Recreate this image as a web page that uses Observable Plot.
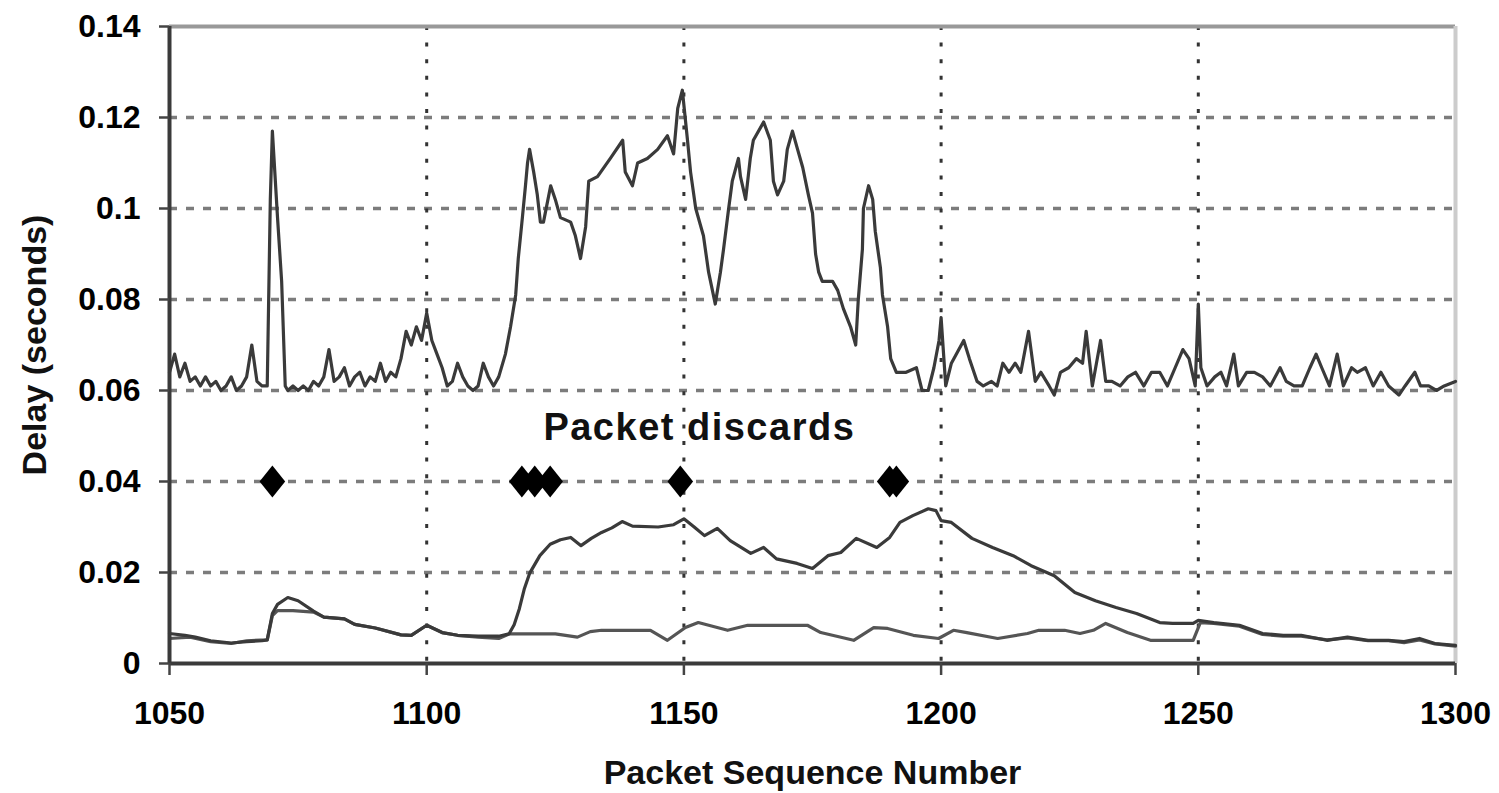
<!DOCTYPE html>
<html>
<head>
<meta charset="utf-8">
<script src="https://cdn.jsdelivr.net/npm/d3@7"></script>
<script src="https://cdn.jsdelivr.net/npm/@observablehq/plot@0.6"></script>
<style>
  html, body { margin: 0; padding: 0; background: #fff; }
  #chart svg { display: block; }
</style>
</head>
<body>
<div id="chart"></div>
<script>
// ---- data ----
const xTicks = [1050, 1100, 1150, 1200, 1250, 1300];
const yTicks = [0, 0.02, 0.04, 0.06, 0.08, 0.1, 0.12, 0.14];
const xGrid = [1100, 1150, 1200, 1250];
const yGrid = [0.02, 0.04, 0.06, 0.08, 0.1, 0.12];

// end-to-end delay (upper trace)
const delaySeq = [1050,1051,1052,1053,1054,1055,1056,1057,1058,1059,1060,1061,1062,1063,1064,1065,1066,1067,1068,1069,1069.6,1070,1071,1071.8,1072.5,1073,1074,1075,1076,1077,1078,1079,1080,1081,1082,1083,1084,1085,1086,1087,1088,1089,1090,1091,1092,1093,1094,1095,1096,1097,1098,1099,1100,1101,1102,1103,1104,1105,1106,1107,1108,1109,1110,1111,1112,1113,1114,1115.3,1116.3,1117.3,1117.8,1118.6,1119.2,1119.6,1120,1120.8,1121.5,1122.1,1122.7,1124.1,1125,1126,1128,1128.9,1129.9,1130.9,1131.5,1133.2,1135.7,1138.1,1138.6,1140,1141,1142.9,1144.9,1146.8,1148,1148.8,1149.7,1150.7,1151.3,1152.3,1153.8,1154.8,1156.1,1157.1,1157.7,1158.7,1159.4,1160.6,1161,1162,1162.9,1163.5,1165.5,1166.8,1167.4,1168.2,1169.4,1170.1,1171.1,1172.1,1173.1,1174.2,1175,1175.6,1176.2,1176.9,1178.9,1179.9,1181,1182.4,1183.4,1183.9,1184.7,1184.9,1185.9,1186.7,1187.2,1188.2,1188.6,1189.6,1190.2,1191.3,1193.2,1195.2,1196.3,1197.5,1198.6,1199.6,1200,1200.9,1202,1204.4,1205.5,1207,1208.2,1209.8,1210.9,1212,1213.2,1214.4,1215.5,1217,1218.3,1219.4,1221,1222,1223.2,1224.8,1226.3,1227.5,1228.2,1229.4,1231,1232,1233.2,1234.8,1236.3,1237.8,1239.4,1240.9,1242.5,1244,1245.5,1247,1248.2,1249.4,1250,1250.5,1251.7,1253.2,1254.4,1255.5,1256.9,1257.8,1259.4,1260.9,1262.5,1264,1265.9,1267.1,1268.6,1270.2,1271.7,1272.9,1274,1275.5,1277,1278.2,1279.8,1280.9,1282.5,1284,1285.5,1287,1289,1290.2,1292.1,1293.2,1294.8,1296.3,1297.8,1300];
const delayVal = [0.064,0.068,0.063,0.066,0.062,0.063,0.061,0.063,0.061,0.062,0.060,0.061,0.063,0.060,0.061,0.063,0.070,0.062,0.061,0.061,0.102,0.117,0.098,0.084,0.061,0.060,0.061,0.060,0.061,0.060,0.062,0.061,0.063,0.069,0.062,0.063,0.065,0.061,0.063,0.064,0.061,0.063,0.062,0.066,0.062,0.064,0.063,0.067,0.073,0.070,0.074,0.071,0.077,0.071,0.068,0.065,0.061,0.062,0.066,0.063,0.061,0.060,0.061,0.066,0.063,0.061,0.063,0.068,0.074,0.081,0.089,0.098,0.105,0.110,0.113,0.108,0.103,0.097,0.097,0.105,0.102,0.098,0.097,0.094,0.089,0.096,0.106,0.107,0.111,0.115,0.108,0.105,0.110,0.111,0.113,0.116,0.112,0.122,0.126,0.115,0.108,0.100,0.094,0.086,0.079,0.086,0.091,0.100,0.106,0.111,0.107,0.102,0.111,0.115,0.119,0.115,0.106,0.103,0.106,0.113,0.117,0.113,0.109,0.103,0.099,0.090,0.086,0.084,0.084,0.082,0.078,0.074,0.070,0.080,0.091,0.100,0.105,0.102,0.095,0.087,0.081,0.074,0.067,0.064,0.064,0.065,0.060,0.060,0.065,0.071,0.076,0.061,0.066,0.071,0.067,0.062,0.061,0.062,0.061,0.066,0.064,0.066,0.064,0.073,0.062,0.064,0.061,0.059,0.064,0.065,0.067,0.066,0.073,0.061,0.071,0.062,0.062,0.061,0.063,0.064,0.061,0.064,0.064,0.061,0.065,0.069,0.067,0.061,0.079,0.065,0.061,0.063,0.064,0.061,0.068,0.061,0.064,0.064,0.063,0.061,0.065,0.062,0.061,0.061,0.065,0.068,0.065,0.061,0.068,0.061,0.065,0.064,0.065,0.061,0.064,0.061,0.059,0.061,0.064,0.061,0.061,0.060,0.061,0.062];

// lower trace A (rises after the discards)
const aSeq = [1050,1053,1055,1058,1062,1065,1068,1069,1070,1071,1073,1075,1078,1080,1084,1086,1090,1095,1097,1100,1103,1106,1110,1114,1116,1117,1118,1119,1120,1122,1124,1126,1128,1130,1132,1134,1136,1138,1140,1145,1148,1150,1152,1154,1156.5,1159,1163,1165.5,1168,1172,1175,1178,1180.5,1183.5,1187.5,1190,1192,1194.5,1197.5,1199,1200,1202,1206,1210,1214,1217.5,1222,1226,1230,1234,1238,1242.5,1245,1249,1250,1253,1258,1262.5,1266.5,1270,1275,1279,1283,1287,1290,1293,1296,1300];
const aVal = [0.0066,0.0062,0.0058,0.0050,0.0045,0.0048,0.0050,0.0052,0.0110,0.0130,0.0145,0.0138,0.0115,0.0102,0.0098,0.0086,0.0078,0.0063,0.0062,0.0084,0.0068,0.0062,0.0060,0.0060,0.0065,0.0085,0.0120,0.0165,0.0198,0.0237,0.0262,0.0272,0.0277,0.0259,0.0275,0.0288,0.0298,0.0312,0.0302,0.0300,0.0305,0.0318,0.0300,0.0281,0.0297,0.0270,0.0242,0.0255,0.0230,0.0220,0.0209,0.0237,0.0244,0.0275,0.0255,0.0277,0.0310,0.0325,0.0340,0.0336,0.0314,0.0310,0.0275,0.0255,0.0237,0.0215,0.0193,0.0156,0.0138,0.0123,0.0110,0.0090,0.0088,0.0088,0.0095,0.0090,0.0084,0.0066,0.0062,0.0062,0.0051,0.0058,0.0051,0.0051,0.0048,0.0055,0.0044,0.0040];

// lower trace B (stays low)
const bSeq = [1050,1054,1058,1062,1065,1069,1070,1071,1074,1078,1080,1084,1086,1090,1095,1097,1100,1103,1106,1110,1114,1116,1120,1125,1129.3,1131.8,1134,1143.5,1146.8,1150.3,1152.8,1158.5,1162.4,1166,1174,1176.6,1183,1186.9,1189.6,1194.6,1199.5,1202.4,1205,1211,1216.8,1219,1224,1227,1229.6,1232,1236.2,1240.7,1249,1250.4,1253,1258,1262.5,1266.5,1270,1275,1279,1283,1287,1290,1293,1296,1300];
const bVal = [0.0055,0.0058,0.0048,0.0044,0.0050,0.0052,0.0105,0.0116,0.0116,0.0113,0.0102,0.0098,0.0086,0.0078,0.0063,0.0062,0.0084,0.0068,0.0062,0.0058,0.0055,0.0065,0.0065,0.0065,0.0058,0.0070,0.0073,0.0073,0.0051,0.0079,0.0090,0.0073,0.0084,0.0084,0.0084,0.0068,0.0051,0.0079,0.0077,0.0062,0.0055,0.0073,0.0068,0.0055,0.0066,0.0073,0.0073,0.0066,0.0073,0.0088,0.0068,0.0051,0.0051,0.0090,0.0088,0.0082,0.0064,0.0060,0.0060,0.0052,0.0056,0.0050,0.0050,0.0046,0.0052,0.0043,0.0038];

// packet discards
const discardSeq = [1070, 1118.5, 1121, 1124, 1149.3, 1190, 1191.3];
const discardVal = [0.04, 0.04, 0.04, 0.04, 0.04, 0.04, 0.04];

const annotation = [{seq: 1153, val: 0.0518, text: "Packet discards"}];
const yTitle = ["Delay (seconds)"];
const xTitle = ["Packet Sequence Number"];

// ---- build tables ----
const delay = delaySeq.map((s, i) => ({seq: s, val: delayVal[i]}));
const traceA = aSeq.map((s, i) => ({seq: s, val: aVal[i]}));
const traceB = bSeq.map((s, i) => ({seq: s, val: bVal[i]}));
const discards = discardSeq.map((s, i) => ({seq: s, val: discardVal[i]}));

const diamond = {
  draw(context, size) {
    const r = Math.sqrt(size / Math.PI);
    context.moveTo(0, -r);
    context.lineTo(r * 0.8, 0);
    context.lineTo(0, r);
    context.lineTo(-r * 0.8, 0);
    context.closePath();
  }
};

const FONT = "'Liberation Sans', Arial, Helvetica, sans-serif";
const lineStyle = {x: "seq", y: "val", stroke: "#3a3a3a", strokeWidth: 3.2, curve: "linear"};

const chart = Plot.plot({
  width: 1499,
  height: 793,
  marginLeft: 169,
  marginRight: 44,
  marginTop: 26,
  marginBottom: 130,
  style: {fontFamily: FONT, fontWeight: "bold", background: "#ffffff", color: "#000"},
  x: {domain: [1050, 1300]},
  y: {domain: [0, 0.14]},
  marks: [
    Plot.ruleY(yGrid, {stroke: "#7c7c7c", strokeWidth: 3.5, strokeDasharray: "8,9"}),
    Plot.ruleX(xGrid, {stroke: "#333333", strokeWidth: 3, strokeDasharray: "4,12.6"}),
    Plot.ruleY([0.14], {stroke: "#999999", strokeWidth: 4}),
    Plot.ruleX([1300], {stroke: "#cccccc", strokeWidth: 4}),
    Plot.line(traceB, {...lineStyle, stroke: "#555555"}),
    Plot.line(traceA, lineStyle),
    Plot.line(delay, lineStyle),
    Plot.dot(discards, {x: "seq", y: "val", symbol: diamond, r: 16, fill: "#000", stroke: "none"}),
    Plot.text(annotation, {x: "seq", y: "val", text: "text", fontSize: 38, fontWeight: "bold", fill: "#111", textAnchor: "middle", lineAnchor: "middle"}),
    Plot.ruleX([1050], {stroke: "#3a3a3a", strokeWidth: 4}),
    Plot.ruleY([0], {stroke: "#3a3a3a", strokeWidth: 4}),
    Plot.axisY({ticks: yTicks, tickSize: 10, tickPadding: 19, fontSize: 32, label: null, stroke: "#444", strokeWidth: 2.5,
      tickFormat: d => String(+d.toFixed(2))}),
    Plot.axisX({ticks: xTicks, tickSize: 12, tickPadding: 26, fontSize: 32, label: null, stroke: "#444", strokeWidth: 2.5,
      tickFormat: d => String(d)}),
    Plot.text(yTitle, {text: d => d, frameAnchor: "left", dx: -134, rotate: -90, textAnchor: "middle", lineAnchor: "middle",
      fontSize: 34, fontWeight: "bold", fill: "#111"}),
    Plot.text(xTitle, {text: d => d, frameAnchor: "bottom", dy: 110, textAnchor: "middle", lineAnchor: "middle",
      fontSize: 34, fontWeight: "bold", fill: "#111"})
  ]
});
d3.select(chart).selectAll("text").filter(function () { return this.textContent === "Packet discards"; })
  .style("letter-spacing", "1.5px");
document.getElementById("chart").append(chart);
</script>
</body>
</html>
